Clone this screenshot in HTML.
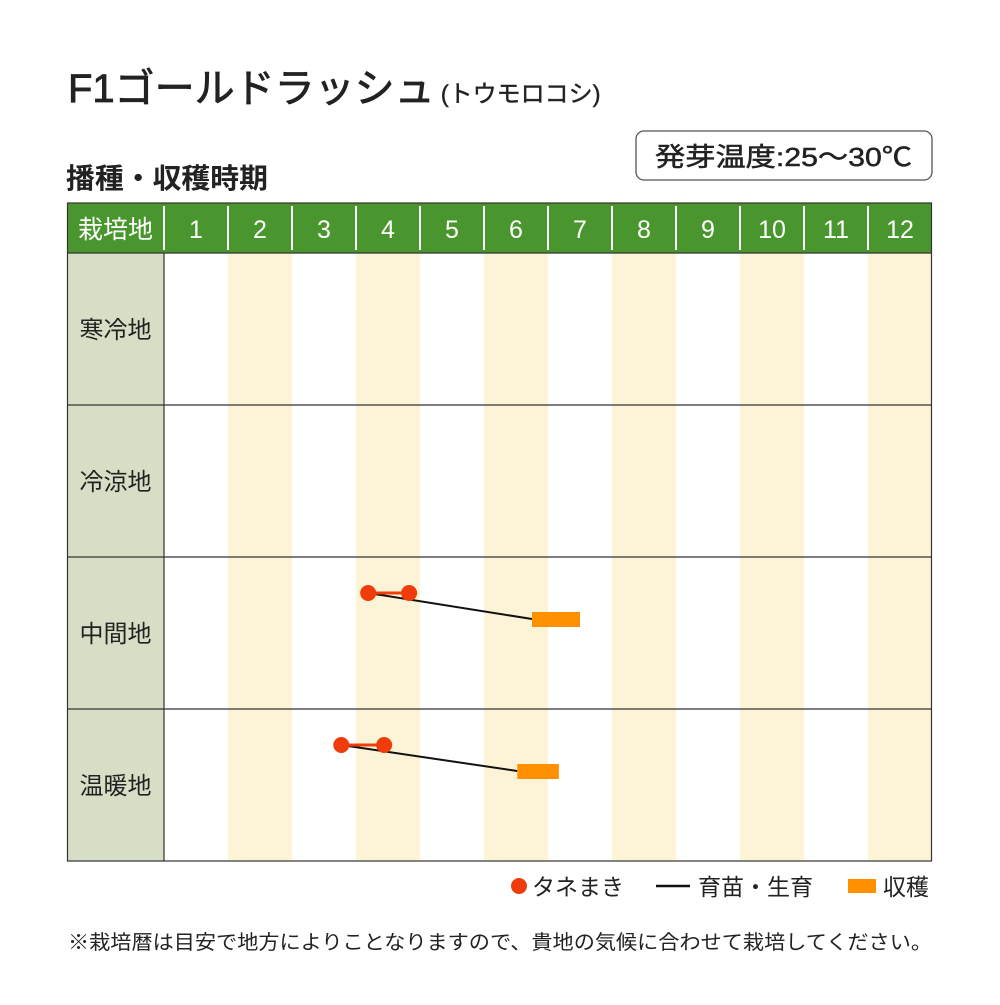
<!DOCTYPE html>
<html><head><meta charset="utf-8"><style>
body{margin:0;background:#fff;font-family:"Liberation Sans","Noto Sans CJK JP",sans-serif;}
svg text{font-family:"Liberation Sans","Noto Sans CJK JP",sans-serif;}
</style></head><body>
<svg id="chart" width="1000" height="1000" viewBox="0 0 1000 1000" xmlns="http://www.w3.org/2000/svg">
<text x="68" y="102" font-size="40" fill="#222" stroke="#222" stroke-width="0.8">F1ゴールドラッシュ<tspan font-size="24" dx="6" stroke-width="0.4">(トウモロコシ)</tspan></text>
<text x="66" y="188" font-size="28" fill="#222" font-weight="bold" textLength="202" lengthAdjust="spacingAndGlyphs">播種・収穫時期</text>
<rect x="636" y="131" width="296" height="49" rx="8" fill="#fff" stroke="#555" stroke-width="1.3"/>
<text x="655" y="166" font-size="26" fill="#222" stroke="#222" stroke-width="0.5" textLength="257" lengthAdjust="spacingAndGlyphs">発芽温度:25〜30℃</text>
<g id="grid"></g>
<g id="marks"></g>
<g>
<circle cx="519" cy="886" r="8" fill="#f03c0a"/>
<text x="532" y="895" font-size="23" fill="#222">タネまき</text>
<line x1="656" y1="886" x2="690" y2="886" stroke="#111" stroke-width="2.5"/>
<text x="698" y="895" font-size="23" fill="#222">育苗・生育</text>
<rect x="848" y="879" width="28" height="14" fill="#ff9100"/>
<text x="883" y="895" font-size="23" fill="#222">収穫</text>
</g>
<text x="68" y="949" font-size="20" fill="#222" textLength="864" lengthAdjust="spacingAndGlyphs">※栽培暦は目安で地方によりことなりますので、貴地の気候に合わせて栽培してください。</text>
</svg>
<script>
const months=["1","2","3","4","5","6","7","8","9","10","11","12"];
const regions=["寒冷地","冷涼地","中間地","温暖地"];
const sowStart=[null,null,3.19,2.77];
const sowEnd=[null,null,3.83,3.44];
const harvestStart=[null,null,5.75,5.52];
const harvestEnd=[null,null,6.5,6.17];
const NS="http://www.w3.org/2000/svg";
const X0=164,MW=64,HY=203,HH=50,RY=253,RH=152,LX=67;
const xs=m=>X0+m*MW;
const ry=i=>RY+i*RH;
function mk(t,a,p){const e=document.createElementNS(NS,t);for(const k in a)e.setAttribute(k,a[k]);p.appendChild(e);return e;}
const grid=document.getElementById('grid'),marks=document.getElementById('marks');
let h=mk('rect',{x:LX,y:HY,width:932-LX,height:HH,fill:'#4a962e'},grid);


let ht=mk('text',{x:(LX+X0)/2,y:HY+35,'font-size':25,fill:'#fff','text-anchor':'middle'},grid);ht.textContent='栽培地';


months.forEach((m,i)=>{
 if(i%2==1){const s=mk('rect',{x:xs(i),y:RY,width:MW,height:RH*4,fill:'#fdf3d6'},grid);
 
 }
 const t=mk('text',{x:xs(i)+MW/2,y:HY+35,'font-size':25,fill:'#fff','text-anchor':'middle'},grid);t.textContent=m;
 
 
 if(i>0){mk('line',{x1:xs(i),y1:HY+3,x2:xs(i),y2:HY+HH-3,stroke:'#fff','stroke-width':2},grid);}
});
mk('line',{x1:X0,y1:HY+3,x2:X0,y2:HY+HH-3,stroke:'#fff','stroke-width':2},grid);
regions.forEach((r,i)=>{
 const c=mk('rect',{x:LX,y:ry(i),width:X0-LX,height:RH,fill:'#d6dfc5'},grid);
 
 
 const t=mk('text',{x:(LX+X0)/2,y:ry(i)+RH/2+9,'font-size':24,fill:'#222','text-anchor':'middle'},grid);t.textContent=r;
 
 
 mk('line',{x1:LX,y1:ry(i),x2:932,y2:ry(i),stroke:'#333','stroke-width':1.2},grid);
});
mk('rect',{x:LX+0.5,y:HY,width:932-LX-1,height:RH*4+HH,fill:'none',stroke:'#333','stroke-width':1.2},grid);
mk('line',{x1:X0,y1:RY,x2:X0,y2:RY+4*RH,stroke:'#333','stroke-width':1.2},grid);
regions.forEach((r,i)=>{
 if(sowStart[i]==null)return;
 const dy=ry(i)+36, by=ry(i)+62;
 const l=mk('line',{x1:xs(sowStart[i]),y1:dy,x2:xs(harvestStart[i]),y2:by,stroke:'#111','stroke-width':2},marks);
 
 
 const sl=mk('line',{x1:xs(sowStart[i]),y1:dy,x2:xs(sowEnd[i]),y2:dy,stroke:'#f03c0a','stroke-width':3},marks);
 
 
 [sowStart[i],sowEnd[i]].forEach(v=>{
  const c=mk('circle',{cx:xs(v),cy:dy,r:8,fill:'#f03c0a'},marks);
  
  
 });
 const b=mk('rect',{x:xs(harvestStart[i]),y:by-7,width:xs(harvestEnd[i])-xs(harvestStart[i]),height:15,fill:'#ff9100'},marks);
 
 
});
</script>
</body></html>
